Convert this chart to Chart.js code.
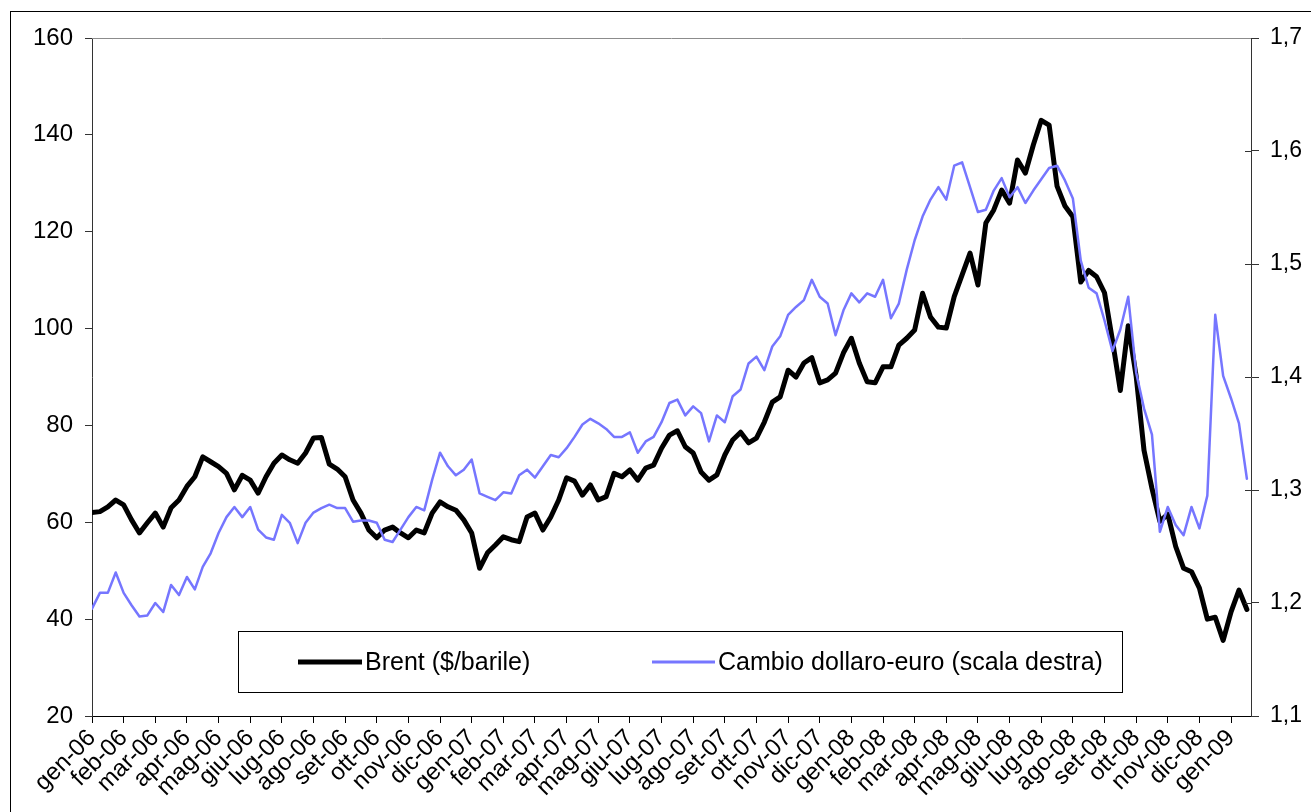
<!DOCTYPE html>
<html lang="it">
<head>
<meta charset="utf-8">
<title>Brent e cambio dollaro-euro</title>
<script src="https://cdn.jsdelivr.net/npm/chart.js@4.4.1/dist/chart.umd.min.js"></script>
<style>
  html, body { margin: 0; padding: 0; background: #fff; }
  canvas { display: block; }
</style>
</head>
<body>
<canvas id="grafico" width="1311" height="812"></canvas>
<script>
const MESI = [
    'gen-06', 'feb-06', 'mar-06', 'apr-06', 'mag-06', 'giu-06', 'lug-06', 'ago-06', 'set-06', 'ott-06', 'nov-06', 'dic-06',
    'gen-07', 'feb-07', 'mar-07', 'apr-07', 'mag-07', 'giu-07', 'lug-07', 'ago-07', 'set-07', 'ott-07', 'nov-07', 'dic-07',
    'gen-08', 'feb-08', 'mar-08', 'apr-08', 'mag-08', 'giu-08', 'lug-08', 'ago-08', 'set-08', 'ott-08', 'nov-08', 'dic-08',
    'gen-09'
];

// valori, circa uno a settimana (4 per mese) da inizio gennaio 2006
const BRENT = [
    62, 62.2, 63.2, 64.6, 63.6, 60.5, 57.8, 59.9, 61.9, 59, 63, 64.6,
    67.4, 69.4, 73.5, 72.5, 71.5, 70.1, 66.7, 69.7, 68.7, 66, 69.4, 72.2,
    73.9, 72.9, 72.2, 74.3, 77.4, 77.5, 72, 71, 69.4, 64.6, 61.9, 58.4,
    56.8, 58.4, 59, 57.8, 56.8, 58.4, 57.8, 61.9, 64.2, 63.2, 62.5, 60.5,
    57.8, 50.5, 53.7, 55.3, 57, 56.4, 56, 61.1, 61.9, 58.4, 61.1, 64.6,
    69.2, 68.5, 65.6, 67.7, 64.6, 65.3, 70.1, 69.4, 70.8, 68.7, 71.2, 71.8,
    75.3, 78, 78.9, 75.6, 74.3, 70.4, 68.7, 69.8, 73.9, 77, 78.6, 76.4,
    77.4, 80.7, 84.8, 85.9, 91.4, 90, 92.9, 94, 88.8, 89.4, 90.8, 95,
    98, 92.9, 89, 88.8, 92.1, 92.1, 96.6, 98, 99.7, 107.3, 102.4, 100.3,
    100.1, 106.6, 111.1, 115.6, 109, 121.8, 124.5, 128.6, 125.9, 134.8, 132.1, 137.9,
    143, 142, 129.4, 125.3, 123.1, 109.6, 112, 110.7, 107.4, 97.6, 87.2, 100.6,
    90.2, 74.8, 67, 60.2, 61.7, 55, 50.5, 49.8, 46.4, 40, 40.4, 35.6,
    41.5, 46, 42
];

const CAMBIO = [
    1.195, 1.209, 1.209, 1.227, 1.209, 1.198, 1.188, 1.189, 1.2, 1.192, 1.216, 1.207,
    1.223, 1.212, 1.232, 1.244, 1.262, 1.276, 1.285, 1.276, 1.285, 1.265, 1.258, 1.256,
    1.278, 1.271, 1.253, 1.271, 1.28, 1.284, 1.287, 1.284, 1.284, 1.272, 1.273, 1.273,
    1.271, 1.256, 1.254, 1.265, 1.276, 1.285, 1.282, 1.309, 1.333, 1.321, 1.313, 1.318,
    1.327, 1.297, 1.294, 1.291, 1.298, 1.297, 1.313, 1.318, 1.311, 1.321, 1.331, 1.329,
    1.337, 1.347, 1.358, 1.363, 1.359, 1.354, 1.347, 1.347, 1.351, 1.333, 1.343, 1.347,
    1.36, 1.377, 1.38, 1.366, 1.374, 1.368, 1.343, 1.366, 1.36, 1.383, 1.389, 1.412,
    1.418, 1.406, 1.427, 1.436, 1.455, 1.462, 1.468, 1.486, 1.471, 1.465, 1.437, 1.459,
    1.474, 1.466, 1.474, 1.471, 1.486, 1.452, 1.465, 1.495, 1.521, 1.542, 1.557, 1.568,
    1.557, 1.587, 1.59, 1.568, 1.546, 1.548, 1.565, 1.576, 1.559, 1.568, 1.554, 1.565,
    1.575, 1.585, 1.587, 1.574, 1.558, 1.503, 1.479, 1.474, 1.45, 1.423, 1.442, 1.471,
    1.404, 1.372, 1.349, 1.263, 1.285, 1.269, 1.26, 1.285, 1.266, 1.295, 1.455, 1.401,
    1.381, 1.359, 1.31
];

const TICK_DESTRA = [1.2, 1.3, 1.4, 1.5, 1.6];

const PUNTI_PER_MESE = 4;
const FONT = 'Liberation Sans, Arial, sans-serif';

const NERO = '#000000';
const BLU = 'rgb(118, 118, 255)';

function comePunti(valori) {
    return valori.map((v, i) => ({ x: i / PUNTI_PER_MESE, y: v }));
}

// cornice esterna, bordo superiore dell'area e tacche interne dell'asse destro
const cornice = {
    id: 'cornice',
    afterDraw(chart) {
        const ctx = chart.ctx;
        const area = chart.chartArea;
        ctx.save();
        ctx.strokeStyle = '#000';
        ctx.lineWidth = 1;
        ctx.strokeRect(10.5, 11.5, 1400, 900);

        ctx.strokeStyle = '#8c8c8c';
        ctx.beginPath();
        ctx.moveTo(area.left, area.top + 0.5);
        ctx.lineTo(area.right, area.top + 0.5);
        ctx.stroke();

        const asseDx = chart.scales.y2;
        ctx.strokeStyle = '#333';
        ctx.beginPath();
        TICK_DESTRA.forEach(v => {
            const y = Math.round(asseDx.getPixelForValue(v)) + 0.5;
            ctx.moveTo(area.right - 6, y);
            ctx.lineTo(area.right, y);
        });
        ctx.stroke();
        ctx.restore();
    }
};

// legenda in riquadro dentro l'area del grafico
const legenda = {
    id: 'legenda',
    afterDraw(chart) {
        const ctx = chart.ctx;
        ctx.save();
        ctx.fillStyle = '#fff';
        ctx.fillRect(238, 631, 884, 61);
        ctx.strokeStyle = '#000';
        ctx.lineWidth = 1;
        ctx.strokeRect(238.5, 631.5, 884, 61);

        const yc = 662;
        ctx.lineCap = 'butt';
        ctx.strokeStyle = NERO;
        ctx.lineWidth = 5;
        ctx.beginPath();
        ctx.moveTo(298, yc);
        ctx.lineTo(362, yc);
        ctx.stroke();

        ctx.strokeStyle = BLU;
        ctx.lineWidth = 3;
        ctx.beginPath();
        ctx.moveTo(652, yc);
        ctx.lineTo(715, yc);
        ctx.stroke();

        ctx.fillStyle = '#000';
        ctx.font = '25px ' + FONT;
        ctx.textBaseline = 'middle';
        ctx.textAlign = 'left';
        ctx.fillText(chart.data.datasets[0].label, 365, yc + 1);
        ctx.fillText(chart.data.datasets[1].label, 718, yc + 1);
        ctx.restore();
    }
};

const ctx = document.getElementById('grafico').getContext('2d');
new Chart(ctx, {
    type: 'line',
    data: {
        datasets: [
            {
                label: 'Brent ($/barile)',
                data: comePunti(BRENT),
                yAxisID: 'y',
                borderColor: NERO,
                borderWidth: 5,
                order: 2
            },
            {
                label: 'Cambio dollaro-euro (scala destra)',
                data: comePunti(CAMBIO),
                yAxisID: 'y2',
                borderColor: BLU,
                borderWidth: 2.5,
                order: 1
            }
        ]
    },
    options: {
        responsive: false,
        animation: false,
        devicePixelRatio: 1,
        layout: { padding: { top: 38, left: 0, right: 0, bottom: 0 } },
        elements: {
            point: { radius: 0 },
            line: { tension: 0, borderJoinStyle: 'round', borderCapStyle: 'round' }
        },
        plugins: {
            legend: { display: false },
            tooltip: { enabled: false }
        },
        scales: {
            x: {
                type: 'linear',
                min: 0,
                max: 36.63,
                afterBuildTicks: asse => {
                    asse.ticks = MESI.map((m, i) => ({ value: i }));
                },
                afterFit: asse => { asse.height = 96; },
                ticks: {
                    autoSkip: false,
                    maxRotation: 45,
                    minRotation: 45,
                    padding: 1,
                    color: '#000',
                    font: { family: FONT, size: 24 },
                    callback: v => MESI[v] || ''
                },
                grid: { drawOnChartArea: false, tickLength: 7, color: '#000' },
                border: { color: '#000', width: 1 }
            },
            y: {
                position: 'left',
                min: 20,
                max: 160,
                afterFit: asse => { asse.width = 92; },
                ticks: {
                    stepSize: 20,
                    padding: 12,
                    color: '#000',
                    font: { family: FONT, size: 24 }
                },
                grid: { drawOnChartArea: false, tickLength: 7, color: '#333' },
                border: { color: '#333', width: 1 }
            },
            y2: {
                position: 'right',
                min: 1.1,
                max: 1.7,
                afterFit: asse => { asse.width = 60; },
                ticks: {
                    stepSize: 0.1,
                    padding: 11,
                    color: '#000',
                    font: { family: FONT, size: 23 },
                    callback: v => v.toFixed(1).replace('.', ',')
                },
                grid: { drawOnChartArea: false, tickLength: 8, color: '#333' },
                border: { color: '#333', width: 1 }
            }
        }
    },
    plugins: [cornice, legenda]
});
</script>
</body>
</html>
